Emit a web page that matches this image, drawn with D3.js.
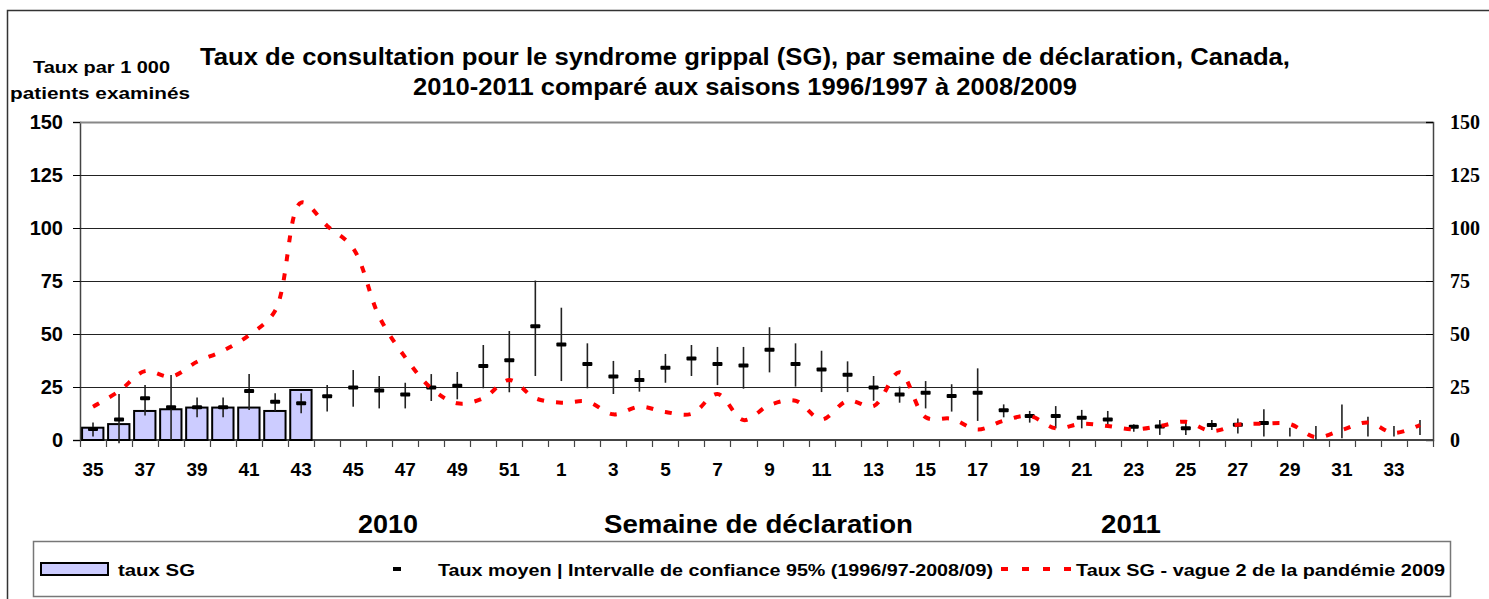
<!DOCTYPE html>
<html>
<head>
<meta charset="utf-8">
<script src="https://cdn.jsdelivr.net/npm/d3@7"></script>
<style>
	body { margin: 0; background: #fff; }
	svg { display: block; font-family: "Liberation Sans", Arial, sans-serif; }
</style>
</head>
<body>
<div id="chart"></div>
<script>
// semaines de déclaration 2010 (35-52) puis 2011 (1-34)
var weeks = [35,36,37,38,39,40,41,42,43,44,45,46,47,48,49,50,51,52,
	1,2,3,4,5,6,7,8,9,10,11,12,13,14,15,16,17,18,19,20,21,22,23,24,25,26,27,28,29,30,31,32,33,34];

// taux SG 2010-2011 (barres)
var tauxSG = [5.8,7.5,13.7,14.5,15.3,15.3,15.3,13.7,23.6];

// taux moyen 1996/97-2008/09
var tauxMoyen = [5.2,9.7,19.7,15.4,15.5,15.5,23.1,18.1,17.3,20.6,24.8,23.3,21.5,24.8,25.6,34.9,37.6,53.6,
	45.1,35.8,30.0,28.3,34.1,38.4,35.8,35.1,42.6,35.8,33.3,30.8,24.8,21.5,22.3,20.8,22.3,14.0,11.3,11.3,10.5,9.7,6.3,6.4,5.5,7.1,7.2,8.0,
	null,null,null,null,null,null];

// intervalle de confiance 95%
var icHaut = [8.3,21.7,25.9,30.7,20.1,20.1,31.1,22.0,22.0,25.9,33.0,30.2,27.0,31.1,32.1,44.8,51.4,75.2,
	62.4,45.6,37.3,33.0,40.6,44.8,43.9,43.9,53.2,45.6,42.1,37.1,30.2,25.2,27.8,26.3,33.8,16.8,13.7,16.0,14.2,13.7,7.4,9.4,9.0,9.4,10.2,14.5,
	5.8,6.6,16.8,11.0,6.6,9.4];
var icBas = [1.6,-1.5,11.5,0,10.7,10.7,14.2,13.7,12.6,13.4,15.7,14.9,14.9,18.4,19.2,24.4,22.5,30.2,
	27.8,24.4,21.7,22.8,27.0,30.2,25.9,24.2,31.9,25.2,22.6,22.6,18.5,17.6,14.9,13.4,9.0,10.7,8.2,5.5,5.5,6.6,3.9,2.4,2.4,4.7,3.1,1.6,
	1.6,0,0.8,1.6,1.6,2.4];

// taux SG - vague 2 de la pandémie 2009
var tauxPandemie = [15.7,23.0,32.5,29.9,36.9,42.1,49.5,61.0,112.0,101.0,90.4,58.2,39.0,24.4,17.3,19.7,28.3,19.7,
	17.6,18.1,12.1,15.7,13.2,12.3,21.7,9.4,16.5,18.5,9.7,18.5,16.0,32.0,10.7,10.0,5.0,9.1,11.3,5.5,7.7,6.6,5.0,6.6,8.6,4.2,7.2,7.7,
	7.5,1.3,4.7,8.3,3.3,7.1];

var yTicks = [0,25,50,75,100,125,150];

var width = 1489, height = 599;
var margin = {top: 122, right: 56, bottom: 159, left: 80};

var svg = d3.select("#chart").append("svg")
	.attr("width", width)
	.attr("height", height);

// texte étiré à une largeur donnée
function stretched(g, xPos, yPos, txt, len) {
	return g.append("text")
		.attr("x", xPos)
		.attr("y", yPos)
		.attr("textLength", len)
		.attr("lengthAdjust", "spacingAndGlyphs")
		.text(txt);
}

// cadre extérieur
svg.append("path")
	.attr("d", "M7.5,600V10.5H1490")
	.attr("fill", "none")
	.attr("stroke", "#333")
	.attr("stroke-width", 1.5);

var x = d3.scaleBand()
	.domain(d3.range(weeks.length))
	.range([margin.left, width - margin.right]);

var y = d3.scaleLinear([0, 150], [height - margin.bottom, margin.top]);

// axe gauche
var gLeft = svg.append("g")
	.attr("transform", `translate(${margin.left},0)`)
	.call(d3.axisLeft(y).tickValues(yTicks).tickSize(7).tickPadding(10))
	.call(g => g.select(".domain").attr("stroke", "#444").attr("stroke-width", 1.5));
gLeft.selectAll("text")
	.attr("font-size", 20)
	.attr("font-weight", "bold")
	.attr("font-family", "Liberation Sans, Arial, sans-serif")
	.attr("fill", "#000");

// grille
svg.append("g")
	.selectAll("line")
	.data(yTicks.filter(d => d > 0))
	.join("line")
	.attr("x1", margin.left)
	.attr("x2", width - margin.right)
	.attr("y1", d => Math.round(y(d)) + 0.5)
	.attr("y2", d => Math.round(y(d)) + 0.5)
	.attr("stroke", d => d == 150 ? "#888" : "#222")
	.attr("stroke-width", d => d == 150 ? 2 : 1.2);

// axe droit
var gRight = svg.append("g")
	.attr("transform", `translate(${width - margin.right},0)`)
	.call(d3.axisRight(y).tickValues(yTicks).tickSize(-7).tickPadding(17))
	.call(g => g.select(".domain").attr("stroke", "#444").attr("stroke-width", 1.5));
gRight.selectAll("text")
	.attr("font-size", 20)
	.attr("font-weight", "bold")
	.attr("font-family", "Liberation Serif, Times New Roman, serif")
	.attr("fill", "#000");

// axe x
svg.append("g")
	.attr("stroke", "#444")
	.attr("stroke-width", 1.2)
	.selectAll("line")
	.data(d3.range(weeks.length + 1))
	.join("line")
	.attr("x1", i => Math.round(margin.left + i * x.step()) + 0.5)
	.attr("x2", i => Math.round(margin.left + i * x.step()) + 0.5)
	.attr("y1", y(0))
	.attr("y2", y(0) + 7);

svg.append("line")
	.attr("x1", margin.left)
	.attr("x2", width - margin.right)
	.attr("y1", y(0))
	.attr("y2", y(0))
	.attr("stroke", "#444")
	.attr("stroke-width", 2);

svg.append("g")
	.attr("font-size", 19)
	.attr("font-weight", "bold")
	.attr("text-anchor", "middle")
	.selectAll("text")
	.data(weeks.map((w, i) => ({w, i})).filter(d => d.i % 2 == 0))
	.join("text")
	.attr("x", d => x(d.i) + x.bandwidth() / 2)
	.attr("y", 476)
	.text(d => d.w);

// barres taux SG
svg.append("g")
	.selectAll("rect")
	.data(tauxSG)
	.join("rect")
	.attr("x", (d, i) => x(i) + x.bandwidth() * 0.08)
	.attr("width", x.bandwidth() * 0.82)
	.attr("y", d => y(d))
	.attr("height", d => y(0) - y(d))
	.attr("fill", "#ccccff")
	.attr("stroke", "#000")
	.attr("stroke-width", 2);

// intervalles de confiance
svg.append("g")
	.selectAll("line")
	.data(d3.range(weeks.length))
	.join("line")
	.attr("x1", i => x(i) + x.bandwidth() / 2)
	.attr("x2", i => x(i) + x.bandwidth() / 2)
	.attr("y1", i => y(icHaut[i]))
	.attr("y2", i => y(icBas[i]))
	.attr("stroke", "#222")
	.attr("stroke-width", 1.6);

// taux moyen
svg.append("g")
	.selectAll("rect")
	.data(d3.range(weeks.length).filter(i => tauxMoyen[i] != null))
	.join("rect")
	.attr("x", i => x(i) + x.bandwidth() / 2 - 5)
	.attr("y", i => y(tauxMoyen[i]) - 2)
	.attr("width", 10)
	.attr("height", 4)
	.attr("rx", 1)
	.attr("fill", "#000");

// courbe pandémie
var line = d3.line()
	.x((d, i) => x(i) + x.bandwidth() / 2)
	.y(d => y(d))
	.curve(d3.curveCatmullRom);

svg.append("path")
	.datum(tauxPandemie)
	.attr("d", line)
	.attr("fill", "none")
	.attr("stroke", "#ff0000")
	.attr("stroke-width", 4)
	.attr("stroke-dasharray", "7,12");

// titres
var title = svg.append("g")
	.attr("font-size", 24)
	.attr("font-weight", "bold");
stretched(title, 200, 65, "Taux de consultation pour le syndrome grippal (SG), par semaine de déclaration, Canada,", 1090);
stretched(title, 413, 95, "2010-2011 comparé aux saisons 1996/1997 à 2008/2009", 664);

var yLabel = svg.append("g")
	.attr("font-size", 17)
	.attr("font-weight", "bold");
stretched(yLabel, 33, 73, "Taux par 1 000", 137);
stretched(yLabel, 10, 99, "patients examinés", 180);

var xLabel = svg.append("g")
	.attr("font-size", 26)
	.attr("font-weight", "bold");
stretched(xLabel, 358, 533, "2010", 60);
stretched(xLabel, 604, 533, "Semaine de déclaration", 309);
stretched(xLabel, 1101, 533, "2011", 60);

// légende
var legend = svg.append("g")
	.attr("font-size", 17)
	.attr("font-weight", "bold");
legend.append("rect")
	.attr("x", 33.5).attr("y", 541.5)
	.attr("width", 1417).attr("height", 55)
	.attr("fill", "#fff")
	.attr("stroke", "#777")
	.attr("stroke-width", 1.5);
legend.append("rect")
	.attr("x", 41).attr("y", 563)
	.attr("width", 67).attr("height", 12)
	.attr("fill", "#ccccff")
	.attr("stroke", "#000")
	.attr("stroke-width", 2);
stretched(legend, 118, 576, "taux SG", 77);
legend.append("rect")
	.attr("x", 393).attr("y", 567)
	.attr("width", 8).attr("height", 4)
	.attr("fill", "#000");
stretched(legend, 438, 576, "Taux moyen | Intervalle de confiance 95% (1996/97-2008/09)", 555);
legend.append("line")
	.attr("x1", 1001).attr("x2", 1074)
	.attr("y1", 569).attr("y2", 569)
	.attr("stroke", "#ff0000")
	.attr("stroke-width", 4)
	.attr("stroke-dasharray", "7,14");
stretched(legend, 1076, 576, "Taux SG - vague 2 de la pandémie 2009", 369);
</script>
</body>
</html>
